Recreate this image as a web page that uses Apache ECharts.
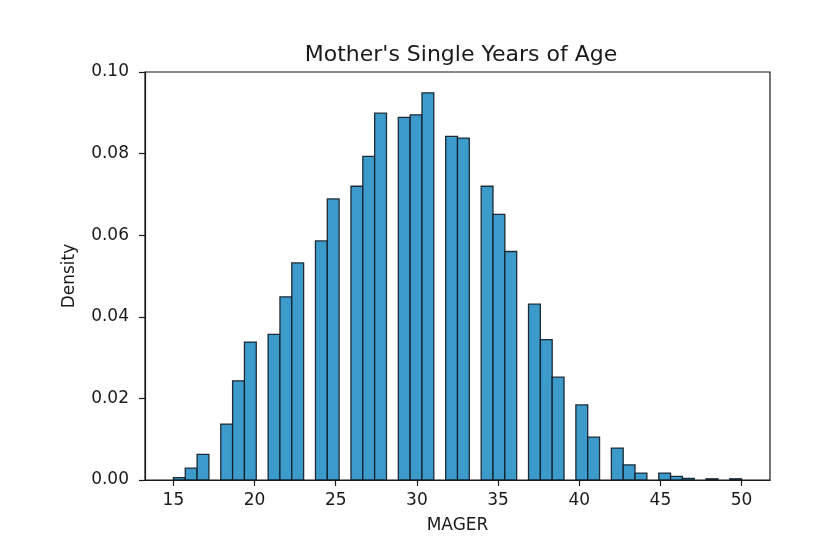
<!DOCTYPE html>
<html>
<head>
<meta charset="utf-8">
<script src="https://cdn.jsdelivr.net/npm/echarts@6/dist/echarts.min.js"></script>
<style>
  html, body { margin: 0; padding: 0; background: #ffffff; }
  #chart { width: 823px; height: 556px; }
</style>
</head>
<body>
<div id="chart"></div>
<script>
// Histogram of MAGER: 48 equal-width bins from 15 to 50, density per bin
const binStart = 15;
const binEnd = 50;
const binCount = 48;
const densities = [
  0.0006, 0.0029, 0.0063, 0,      0.0137, 0.0243, 0.0338, 0,
  0.0357, 0.0449, 0.0532, 0,      0.0586, 0.0689, 0,      0.0720,
  0.0793, 0.0899, 0,      0.0889, 0.0895, 0.0949, 0,      0.0842,
  0.0838, 0,      0.0720, 0.0651, 0.0560, 0,      0.0431, 0.0344,
  0.0252, 0,      0.0184, 0.0105, 0,      0.0078, 0.0037, 0.0017,
  0,      0.0017, 0.0009, 0.0004, 0,      0.0003, 0,      0.0003
];
const xTicks = [15, 20, 25, 30, 35, 40, 45, 50];
const yTicks = [0, 0.02, 0.04, 0.06, 0.08, 0.10];
const titleText = "Mother's Single Years of Age";
const xName = "MAGER";
const yName = "Density";

const binWidth = (binEnd - binStart) / binCount;
const histData = [];
densities.forEach(function (d, i) {
  if (d > 0) {
    histData.push([binStart + i * binWidth, binStart + (i + 1) * binWidth, d]);
  }
});

const FONT = "'DejaVu Sans', sans-serif";
const chart = echarts.init(document.getElementById('chart'), null, { renderer: 'canvas' });
chart.setOption({
  backgroundColor: '#ffffff',
  animation: false,
  title: {
    text: titleText,
    left: 456,
    textAlign: 'center',
    top: 39,
    textStyle: { fontFamily: FONT, fontSize: 22, fontWeight: 'normal', color: '#1a1a1a' }
  },
  grid: {
    left: 145, top: 72, width: 625, height: 408,
    show: true, borderColor: '#1a1a1a', borderWidth: 1.2, backgroundColor: 'transparent'
  },
  xAxis: {
    type: 'value',
    min: 13.25,
    max: 51.75,
    name: xName,
    nameLocation: 'middle',
    nameGap: 37,
    nameTextStyle: { fontFamily: FONT, fontSize: 17, color: '#1a1a1a' },
    axisLine: { show: true, onZero: false, lineStyle: { color: '#1a1a1a', width: 1.2 } },
    axisTick: { show: true, length: 6, inside: false, customValues: xTicks, lineStyle: { color: '#1a1a1a', width: 1.2 } },
    axisLabel: { customValues: xTicks, fontFamily: FONT, fontSize: 17, color: '#1a1a1a', margin: 12 },
    splitLine: { show: false }
  },
  yAxis: {
    type: 'value',
    min: yTicks[0],
    max: yTicks[yTicks.length - 1],
    interval: 0.02,
    name: yName,
    nameLocation: 'middle',
    nameGap: 67,
    nameTextStyle: { fontFamily: FONT, fontSize: 17, color: '#1a1a1a' },
    axisLine: { show: true, lineStyle: { color: '#1a1a1a', width: 1.2 } },
    axisTick: { show: true, length: 6, inside: false, lineStyle: { color: '#1a1a1a', width: 1.2 } },
    axisLabel: {
      fontFamily: FONT, fontSize: 17, color: '#1a1a1a', margin: 16,
      formatter: function (v) { return v.toFixed(2); }
    },
    splitLine: { show: false }
  },
  series: [{
    type: 'custom',
    data: histData,
    encode: { x: [0, 1], y: 2 },
    clip: true,
    renderItem: function (params, api) {
      const p0 = api.coord([api.value(0), api.value(2)]);
      const p1 = api.coord([api.value(1), 0]);
      return {
        type: 'rect',
        shape: { x: p0[0], y: p0[1], width: p1[0] - p0[0], height: p1[1] - p0[1] },
        style: { fill: '#3d9bcc', stroke: 'rgba(15,25,35,0.9)', lineWidth: 1.3 }
      };
    }
  }]
});
</script>
</body>
</html>
